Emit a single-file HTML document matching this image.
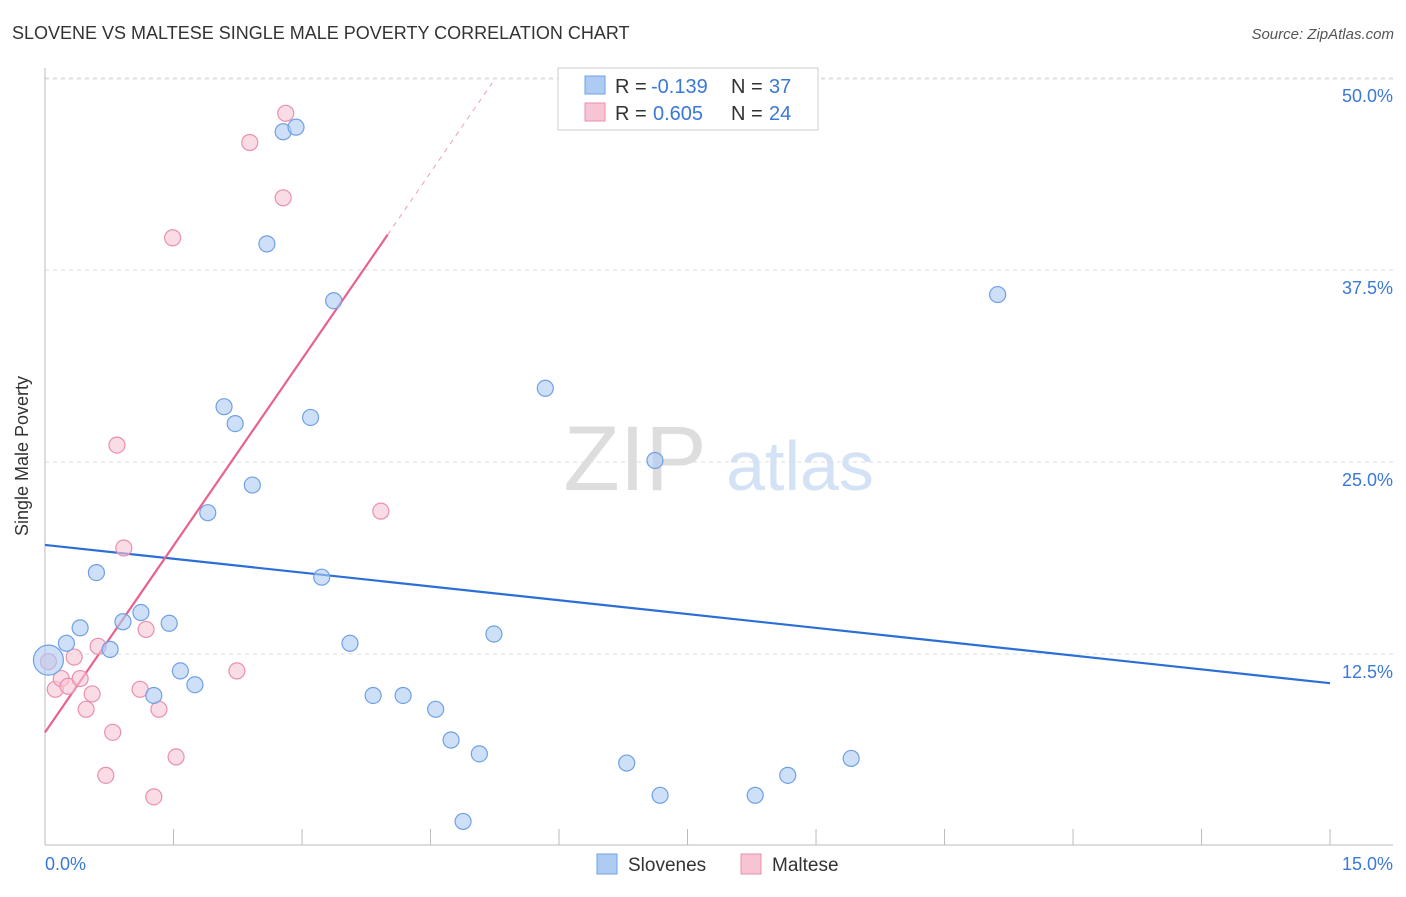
<!DOCTYPE html>
<html><head><meta charset="utf-8"><style>
body{margin:0;background:#fff;font-family:"Liberation Sans",sans-serif;}
svg text{font-family:"Liberation Sans",sans-serif;}
</style></head><body>
<svg id="c" width="1406" height="892">
<text x="12" y="39" font-size="18" fill="#333">SLOVENE VS MALTESE SINGLE MALE POVERTY CORRELATION CHART</text>
<text x="1394" y="39" font-size="15" fill="#555" font-style="italic" text-anchor="end">Source: ZipAtlas.com</text>
<text x="28" y="456" font-size="18" fill="#333" text-anchor="middle" transform="rotate(-90 28 456)">Single Male Poverty</text>
<g><text x="635" y="490" font-size="92" fill="#ddd" text-anchor="middle" font-family="Liberation Serif">ZIP</text><text x="800" y="490" font-size="70" fill="#d3e2f5" text-anchor="middle">atlas</text></g>
<g id="grid"></g><g id="axes"></g><g id="lines"></g><g id="pts"></g>
<g>
<rect x="558" y="68" width="260" height="62" fill="#fff" stroke="#ccc"/>
<rect x="585" y="76" width="20" height="18" fill="#aecbf3" stroke="#6fa0e6"/>
<text x="615" y="93" font-size="20" fill="#333">R =</text>
<text x="651" y="93" font-size="20" fill="#3a78d6">-0.139</text>
<text x="731" y="93" font-size="20" fill="#333">N =</text>
<text x="769" y="93" font-size="20" fill="#3a78d6">37</text>
<rect x="585" y="103" width="20" height="18" fill="#f7c4d3" stroke="#eb8fae"/>
<text x="615" y="120" font-size="20" fill="#333">R =</text>
<text x="653" y="120" font-size="20" fill="#3a78d6">0.605</text>
<text x="731" y="120" font-size="20" fill="#333">N =</text>
<text x="769" y="120" font-size="20" fill="#3a78d6">24</text>
</g>
<g>
<rect x="597" y="854" width="20" height="20" fill="#aecbf3" stroke="#6fa0e6"/>
<text x="628" y="871" font-size="19" fill="#333">Slovenes</text>
<rect x="741" y="854" width="20" height="20" fill="#f7c4d3" stroke="#eb8fae"/>
<text x="772" y="871" font-size="19" fill="#333">Maltese</text>
</g>
</svg>
<script>
const yTicks=[12.5,25,37.5,50];
const yTickLabels=["12.5%","25.0%","37.5%","50.0%"];
const xTicks=[0,1.5,3,4.5,6,7.5,9,10.5,12,13.5,15];
const slovX=[0.04,0.25,0.41,0.76,0.60,0.91,1.12,1.27,1.45,1.58,1.75,1.90,2.09,2.22,2.42,2.59,2.78,2.93,3.10,3.23,3.37,3.56,3.83,4.18,4.56,4.74,4.88,5.07,5.24,5.84,6.79,7.12,7.18,8.29,8.67,9.41,11.12];
const slovY=[12.1,13.2,14.2,12.8,17.8,14.6,15.2,9.8,14.5,11.4,10.5,21.7,28.6,27.5,23.5,39.2,46.5,46.8,27.9,17.5,35.5,13.2,9.8,9.8,8.9,6.9,1.6,6.0,13.8,29.8,5.4,25.1,3.3,3.3,4.6,5.7,35.9];
const maltX=[0.04,0.12,0.19,0.27,0.34,0.41,0.48,0.55,0.62,0.71,0.79,0.84,0.92,1.11,1.18,1.27,1.33,1.49,1.53,2.24,2.39,2.78,2.81,3.92];
const maltY=[12.0,10.2,10.9,10.4,12.3,10.9,8.9,9.9,13.0,4.6,7.4,26.1,19.4,10.2,14.1,3.2,8.9,39.6,5.8,11.4,45.8,42.2,47.7,21.8];
const slovTrend=[19.6,10.6];
const maltTrend=[7.4,8.1];
const X=v=>45+v*85.67, Y=v=>846-v*15.36;
const NS="http://www.w3.org/2000/svg";
function mk(t,p,a){const e=document.createElementNS(NS,t);for(const k in a)e.setAttribute(k,a[k]);p.appendChild(e);return e;}
const g=document.getElementById('grid'),ax=document.getElementById('axes'),ln=document.getElementById('lines'),pt=document.getElementById('pts');
yTicks.forEach((v,i)=>{
 const l=mk('line',g,{x1:45,x2:1393,y1:Y(v),y2:Y(v),stroke:'#ddd','stroke-dasharray':'4,4'});
 
 
 const t=mk('text',g,{x:1393,y:Y(v)+24,'font-size':18,fill:'#3a78d6','text-anchor':'end'});t.textContent=yTickLabels[i];
 
 
});
mk('line',g,{x1:45,x2:1393,y1:Y(50)+1,y2:Y(50)+1,stroke:'#ddd','stroke-dasharray':'4,4'});
mk('line',ax,{x1:45,x2:45,y1:68,y2:845,stroke:'#bbb'});
mk('line',ax,{x1:45,x2:1393,y1:845,y2:845,stroke:'#bbb'});
xTicks.forEach(v=>{const t=mk('line',ax,{x1:X(v),x2:X(v),y1:829,y2:845,stroke:'#bbb'});
 
 });
let t0=mk('text',ax,{x:45,y:870,'font-size':18,fill:'#3a78d6'});t0.textContent="0.0%";


let t1=mk('text',ax,{x:1393,y:870,'font-size':18,fill:'#3a78d6','text-anchor':'end'});t1.textContent="15.0%";


function dot(x,y,r,f,s,n){const c=mk('circle',pt,{cx:X(x),cy:Y(y),r:r,fill:f,'fill-opacity':0.6,stroke:s,'stroke-width':1.2});
 
 }
maltX.forEach((x,i)=>dot(x,maltY[i],8,'#f7c4d3','#eb8fae','maltese-point'));
slovX.forEach((x,i)=>dot(x,slovY[i],i==0?15:8,'#aecbf3','#6fa0e6','slovene-point'));
const bl=mk('line',ln,{x1:X(0),y1:Y(slovTrend[0]),x2:X(15),y2:Y(slovTrend[1]),stroke:'#2b6fd6','stroke-width':2.2});


const pl=mk('line',ln,{x1:X(0),y1:Y(maltTrend[0]),x2:X(4),y2:Y(maltTrend[0]+4*maltTrend[1]),stroke:'#e8628f','stroke-width':2.2});


const pd=mk('line',ln,{x1:X(4),y1:Y(maltTrend[0]+4*maltTrend[1]),x2:X(5.22),y2:Y(maltTrend[0]+5.22*maltTrend[1]),stroke:'#eba0b8','stroke-width':1,'stroke-dasharray':'5,5'});


</script>
</body></html>
